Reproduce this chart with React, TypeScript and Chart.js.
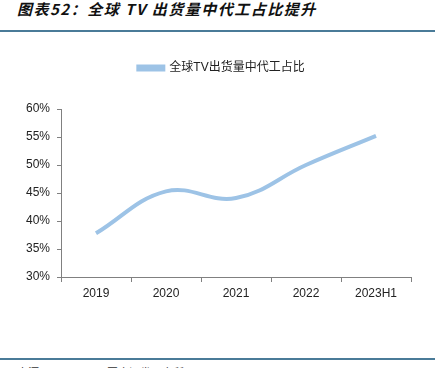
import React, { useEffect, useRef } from "react";
import { Chart, registerables } from "chart.js";

Chart.register(...registerables);

const categories = ["2019", "2020", "2021", "2022", "2023H1"];
const seriesName = "全球TV出货量中代工占比";
const seriesValues = [37.8, 45.3, 44.1, 50.0, 55.2];
const yMin = 30;
const yMax = 60;
const yStep = 5;

const titleText = "图表52：全球 TV 出货量中代工占比提升";
const sourceText = "来源：WitsView，国金证券研究所";

export default function App() {
  const canvasRef = useRef<HTMLCanvasElement | null>(null);

  useEffect(() => {
    document.body.style.margin = "0";
    const canvas = canvasRef.current;
    if (!canvas) return;
    const chart = new Chart(canvas, {
      type: "line",
      data: {
        labels: categories,
        datasets: [
          {
            label: seriesName,
            data: seriesValues,
            borderColor: "#9dc3e6",
            backgroundColor: "#9dc3e6",
            borderWidth: 4,
            tension: 0.4,
            pointRadius: 0,
            pointHoverRadius: 0,
            fill: false,
          },
        ],
      },
      options: {
        responsive: false,
        animation: false,
        devicePixelRatio: 1,
        layout: { padding: { left: 0, right: 0, top: 12, bottom: 0 } },
        plugins: {
          legend: {
            display: true,
            position: "top",
            labels: {
              boxWidth: 25,
              boxHeight: 3,
              padding: 10,
              color: "#222",
              font: { family: "Liberation Sans, Arial, 'Noto Sans CJK SC', sans-serif", size: 12 },
            },
          },
          // invisible spacer between legend and plot area
          subtitle: {
            display: true,
            text: "",
            position: "top",
            weight: 500,
            fullSize: false,
            padding: 0,
            font: { size: 25, lineHeight: 1 },
          },
          // invisible spacer at right of plot area
          title: {
            display: true,
            text: "",
            position: "right",
            weight: 500,
            fullSize: false,
            padding: 0,
            font: { size: 32, lineHeight: 1 },
          },
          tooltip: { enabled: false },
        },
        scales: {
          x: {
            type: "category",
            offset: true,
            grid: {
              offset: true,
              drawOnChartArea: false,
              drawTicks: true,
              tickLength: 5,
              color: "#808080",
            },
            border: { color: "#808080", width: 1 },
            ticks: {
              color: "#222",
              padding: 4,
              maxRotation: 0,
              font: { family: "Liberation Sans, Arial, sans-serif", size: 12 },
            },
            afterFit: (scale: any) => {
              scale.height = 53;
            },
          },
          y: {
            min: yMin,
            max: yMax,
            grid: {
              drawOnChartArea: false,
              drawTicks: true,
              tickLength: 4,
              color: "#808080",
            },
            border: { color: "#808080", width: 1 },
            ticks: {
              stepSize: yStep,
              color: "#222",
              padding: 7,
              font: { family: "Liberation Sans, Arial, sans-serif", size: 12 },
              callback: (v: any) => v + "%",
            },
            afterFit: (scale: any) => {
              scale.width = 61;
            },
          },
        },
      },
    });
    return () => chart.destroy();
  }, []);

  return (
    <div style={{ position: "absolute", left: 0, top: 0, width: 443, height: 368, overflow: "hidden", background: "#fff" }}>
      <div
        style={{
          position: "absolute",
          left: 17,
          top: 0,
          fontFamily: "'Noto Sans CJK SC', sans-serif",
          fontStyle: "italic",
          fontWeight: 700,
          fontSize: 15,
          lineHeight: "18px",
          letterSpacing: 1.5,
          color: "#111",
          whiteSpace: "nowrap",
        }}
      >
        {titleText}
      </div>
      <div style={{ position: "absolute", left: 0, top: 30, width: 435, height: 2, background: "#4a7b98" }} />
      <canvas ref={canvasRef} width={443} height={290} style={{ position: "absolute", left: 0, top: 40 }} />
      <div style={{ position: "absolute", left: 0, top: 358, width: 435, height: 2, background: "#4a7b98" }} />
      <div
        style={{
          position: "absolute",
          left: 17,
          top: 365,
          fontFamily: "'Noto Sans CJK SC', sans-serif",
          fontSize: 11,
          lineHeight: "14px",
          color: "#333",
          whiteSpace: "nowrap",
        }}
      >
        {sourceText}
      </div>
    </div>
  );
}
